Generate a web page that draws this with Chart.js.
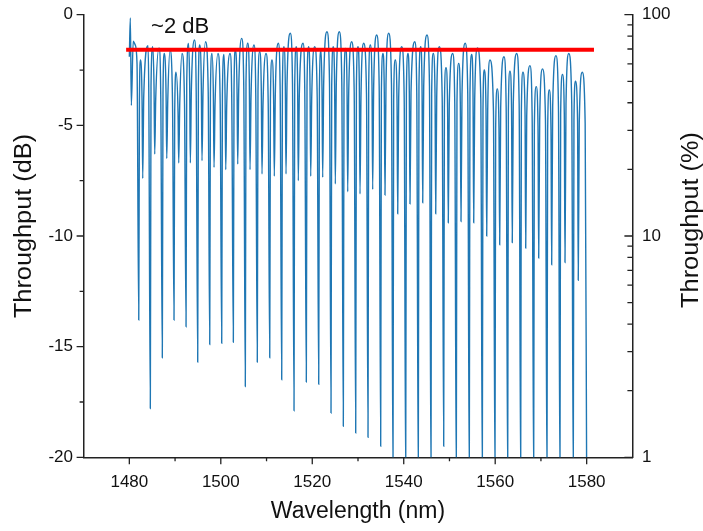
<!DOCTYPE html>
<html>
<head>
<meta charset="utf-8">
<script src="https://cdn.jsdelivr.net/npm/chart.js@4.4.1/dist/chart.umd.min.js"></script>
<style>
  html, body { margin: 0; padding: 0; background: #fff; }
</style>
</head>
<body>
<canvas id="chart" width="703" height="531"></canvas>
<script>
const FONT = "'Liberation Sans', Arial, sans-serif";

// deep resonances (nm, dB)
const deepNm = [1482.06, 1484.59, 1487.21, 1489.77, 1492.40, 1494.95, 1497.58, 1500.20, 1502.74, 1505.36,
  1507.98, 1510.70, 1513.32, 1516.01, 1518.70, 1521.41, 1524.10, 1526.79, 1529.50, 1532.19,
  1534.96, 1537.65, 1540.43, 1543.18, 1545.96, 1548.74, 1551.49, 1554.33, 1557.18, 1559.95,
  1562.73, 1565.57, 1568.41, 1571.32, 1574.16, 1577.07, 1580.00];
const deepDb = [-13.8, -17.8, -15.5, -13.8, -14.1, -15.7, -14.9, -14.85, -14.8, -16.8,
  -15.7, -15.5, -16.5, -17.9, -16.6, -16.7, -18.0, -18.6, -18.9, -19.1,
  -19.5, -21, -21, -21, -21, -19.5, -21, -21, -21, -21,
  -21, -21, -21, -21, -21, -21, -21];

// shallower dips between them
const secNm = [1482.93, 1485.55, 1488.18, 1490.80, 1493.34, 1495.89, 1498.52, 1501.08, 1503.70, 1506.39,
  1509.01, 1511.70, 1514.26, 1516.95, 1519.66, 1522.28, 1525.04, 1527.75, 1530.44, 1533.21,
  1535.90, 1538.68, 1541.37, 1544.15, 1546.99, 1549.74, 1552.52, 1555.30, 1558.14, 1560.98,
  1563.73, 1566.67, 1569.51, 1572.35, 1575.26, 1578.16];
const secDb = [-7.4, -6.3, -6.5, -6.7, -6.7, -6.6, -6.9, -7.0, -6.75, -7.0,
  -7.2, -7.3, -7.2, -7.5, -7.3, -7.35, -7.65, -8.0, -8.1, -7.9,
  -8.15, -9.0, -8.55, -8.5, -9.0, -9.4, -9.35, -9.4, -10.0, -10.4,
  -10.3, -10.55, -11.0, -11.3, -11.2, -12.0];

// small hump right after each deep dip: top, and its two flanks
const peakANm = [1482.45, 1485.12, 1487.65, 1490.21, 1492.94, 1495.39, 1498.08, 1500.70, 1503.17, 1505.89,
  1508.51, 1511.20, 1513.82, 1516.51, 1519.22, 1521.91, 1524.60, 1527.31, 1530.00, 1532.69,
  1535.47, 1538.15, 1540.93, 1543.71, 1546.46, 1549.24, 1552.02, 1554.86, 1557.61, 1560.45,
  1563.23, 1566.07, 1568.97, 1571.82, 1574.71, 1577.55];
const peakADb = [-2.05, -1.45, -1.75, -2.6, -1.3, -1.37, -1.75, -1.8, -1.6, -1.29,
  -1.67, -2.05, -1.45, -1.45, -1.45, -1.6, -1.45, -1.52, -1.45, -1.37,
  -1.75, -2.05, -1.75, -1.45, -1.75, -2.4, -2.2, -1.8, -2.5, -3.35,
  -2.55, -2.6, -3.25, -3.4, -2.7, -3.0];
const flankALeftNm = [1482.21, 1484.74, 1487.36, 1489.92, 1492.55, 1495.10, 1497.73, 1500.35, 1502.89, 1505.51,
  1508.13, 1510.85, 1513.47, 1516.16, 1518.85, 1521.56, 1524.25, 1526.94, 1529.65, 1532.34,
  1535.11, 1537.80, 1540.58, 1543.33, 1546.11, 1548.89, 1551.64, 1554.48, 1557.33, 1560.10,
  1562.88, 1565.72, 1568.56, 1571.47, 1574.31, 1577.22];
const flankARightNm = [1482.78, 1485.40, 1488.03, 1490.65, 1493.19, 1495.74, 1498.37, 1500.93, 1503.55, 1506.24,
  1508.86, 1511.55, 1514.11, 1516.80, 1519.51, 1522.13, 1524.89, 1527.60, 1530.29, 1533.06,
  1535.75, 1538.53, 1541.22, 1544.00, 1546.84, 1549.59, 1552.37, 1555.15, 1557.99, 1560.83,
  1563.58, 1566.52, 1569.36, 1572.20, 1575.11, 1578.01];
const flankADb = [-3.85, -3.25, -3.55, -4.4, -3.1, -3.17, -3.55, -3.6, -3.4, -3.09,
  -3.47, -3.85, -3.25, -3.25, -3.25, -3.4, -3.25, -3.32, -3.25, -3.17,
  -3.55, -3.85, -3.55, -3.25, -3.55, -4.2, -4.0, -3.6, -4.3, -5.15,
  -4.35, -4.4, -5.05, -5.2, -4.5, -4.8];

// main hump before the next deep dip: top, and its two flanks
const peakBNm = [1484.09, 1486.49, 1488.90, 1491.52, 1494.25, 1496.66, 1499.39, 1502.02, 1504.57, 1507.26,
  1509.89, 1512.58, 1515.20, 1517.98, 1520.53, 1523.22, 1525.91, 1528.62, 1531.25, 1534.09,
  1536.71, 1539.56, 1542.42, 1545.09, 1547.78, 1550.70, 1553.44, 1556.13, 1558.86, 1561.92,
  1564.70, 1567.60, 1570.34, 1573.29, 1576.09, 1579.04];
const peakBDb = [-1.4, -1.5, -1.6, -1.75, -1.14, -1.22, -1.75, -1.75, -1.07, -1.37,
  -1.75, -1.29, -0.84, -1.29, -1.45, -0.77, -0.77, -1.22, -1.29, -0.92,
  -0.84, -1.45, -1.22, -0.92, -1.45, -1.75, -1.29, -1.5, -2.05, -1.9,
  -1.75, -2.3, -2.45, -1.85, -1.75, -2.6];
const flankBLeftNm = [1483.15, 1485.77, 1488.40, 1491.02, 1493.56, 1496.11, 1498.74, 1501.30, 1503.92, 1506.61,
  1509.23, 1511.92, 1514.48, 1517.17, 1519.88, 1522.50, 1525.26, 1527.97, 1530.66, 1533.43,
  1536.12, 1538.90, 1541.59, 1544.37, 1547.21, 1549.96, 1552.74, 1555.52, 1558.36, 1561.20,
  1563.95, 1566.89, 1569.73, 1572.57, 1575.48, 1578.38];
const flankBRightNm = [1484.26, 1486.88, 1489.44, 1492.07, 1494.62, 1497.25, 1499.87, 1502.41, 1505.03, 1507.65,
  1510.37, 1512.99, 1515.68, 1518.37, 1521.08, 1523.77, 1526.46, 1529.17, 1531.86, 1534.63,
  1537.32, 1540.10, 1542.85, 1545.63, 1548.41, 1551.16, 1554.00, 1556.85, 1559.62, 1562.40,
  1565.24, 1568.08, 1570.99, 1573.83, 1576.74, 1579.67];
const flankBDb = [-3.7, -3.8, -3.9, -4.05, -3.44, -3.52, -4.05, -4.05, -3.37, -3.67,
  -4.05, -3.59, -3.14, -3.59, -3.75, -3.07, -3.07, -3.52, -3.59, -3.22,
  -3.14, -3.75, -3.52, -3.22, -3.75, -4.05, -3.59, -3.8, -4.35, -4.2,
  -4.05, -4.6, -4.75, -4.15, -4.05, -4.9];

// start of the trace
const startNm = [1480.0, 1480.22, 1480.44, 1480.85, 1481.25, 1481.68];
const startDb = [-1.9, -0.15, -4.1, -1.2, -1.35, -2.2];

// red reference level
const refNm = [1479.3, 1581.6];
const refDb = -1.58;
const refLabel = "~2 dB";

// axis ticks
const xMajor = [1480, 1500, 1520, 1540, 1560, 1580];
const xMinor = [1490, 1510, 1530, 1550, 1570];
const yMajor = [0, -5, -10, -15, -20];
const yMinor = [-2.5, -7.5, -12.5, -17.5];
const pctMajor = [1, 10, 100];
const pctMinor = [2, 3, 4, 5, 6, 7, 8, 9, 20, 30, 40, 50, 60, 70, 80, 90];

const pts = (xs, ys) => xs.map((x, i) => ({ x, y: ys[i] }));
const trace = [
  ...pts(startNm, startDb),
  ...pts(deepNm, deepDb),
  ...pts(secNm, secDb),
  ...pts(peakANm, peakADb),
  ...pts(flankALeftNm, flankADb),
  ...pts(flankARightNm, flankADb),
  ...pts(peakBNm, peakBDb),
  ...pts(flankBLeftNm, flankBDb),
  ...pts(flankBRightNm, flankBDb)
].sort((a, b) => a.x - b.x);

// rotated axis title, stretched a little along its length like the original
function sideTitle(ctx, text, x, y) {
  ctx.save();
  ctx.translate(x, y);
  ctx.rotate(-Math.PI / 2);
  ctx.scale(1.1, 1);
  ctx.fillText(text, 0, 0);
  ctx.restore();
}

const extras = {
  id: "extras",
  afterDraw(chart) {
    const { ctx, chartArea: a, scales } = chart;
    const sx = scales.x, sy = scales.y, sp = scales.y2;
    ctx.save();
    ctx.strokeStyle = "#222";
    ctx.lineWidth = 1.3;
    ctx.beginPath();
    const mark = (x1, y1, x2, y2) => { ctx.moveTo(x1, y1); ctx.lineTo(x2, y2); };
    xMajor.forEach(v => { const x = sx.getPixelForValue(v); mark(x, a.bottom, x, a.bottom + 7); });
    xMinor.forEach(v => { const x = sx.getPixelForValue(v); mark(x, a.bottom, x, a.bottom + 4); });
    yMajor.forEach(v => { const y = sy.getPixelForValue(v); mark(a.left - 7, y, a.left, y); });
    yMinor.forEach(v => { const y = sy.getPixelForValue(v); mark(a.left - 4, y, a.left, y); });
    pctMajor.forEach(v => { const y = sp.getPixelForValue(v); mark(a.right - 8, y, a.right, y); });
    pctMinor.forEach(v => { const y = sp.getPixelForValue(v); mark(a.right - 5, y, a.right, y); });
    ctx.stroke();

    ctx.fillStyle = "#111";
    ctx.font = "23px " + FONT;
    ctx.textAlign = "center";
    ctx.textBaseline = "alphabetic";
    ctx.fillText("Wavelength (nm)", (a.left + a.right) / 2, 518);
    sideTitle(ctx, "Throughput (dB)", 31, 226);
    sideTitle(ctx, "Throughput (%)", 698, 220);

    ctx.font = "22px " + FONT;
    ctx.fillText(refLabel, sx.getPixelForValue(1491.1), sy.getPixelForValue(-0.83));
    ctx.restore();
  }
};

const tickFont = { family: FONT, size: 17 };
const axisBorder = { display: true, color: "#222", width: 1.5 };
const noPad = s => { s.paddingTop = 0; s.paddingBottom = 0; s.paddingLeft = 0; s.paddingRight = 0; };

new Chart(document.getElementById("chart"), {
  type: "line",
  data: {
    datasets: [
      {
        data: refNm.map(x => ({ x, y: refDb })),
        borderColor: "#ff0000",
        borderWidth: 4,
        borderCapStyle: "butt",
        pointRadius: 0,
        tension: 0
      },
      {
        data: trace,
        borderColor: "#1f77b4",
        borderWidth: 1.4,
        pointRadius: 0,
        cubicInterpolationMode: "monotone"
      }
    ]
  },
  options: {
    responsive: false,
    devicePixelRatio: 1,
    animation: false,
    layout: { padding: { top: 14.7, left: 0, right: 0, bottom: 0 } },
    plugins: { legend: { display: false }, tooltip: { enabled: false } },
    scales: {
      x: {
        type: "linear",
        min: 1470,
        max: 1590,
        grid: { display: false, drawTicks: false },
        border: axisBorder,
        afterBuildTicks: s => { s.ticks = xMajor.map(value => ({ value })); },
        afterFit: s => { s.height = 73.7; noPad(s); },
        ticks: { font: tickFont, color: "#111", padding: 15, maxRotation: 0, autoSkip: false, callback: v => String(v) }
      },
      y: {
        type: "linear",
        position: "left",
        min: -20,
        max: 0,
        grid: { display: false, drawTicks: false },
        border: axisBorder,
        afterBuildTicks: s => { s.ticks = yMajor.map(value => ({ value })); },
        afterFit: s => { s.width = 83.6; noPad(s); },
        ticks: { font: tickFont, color: "#111", padding: 10.6, callback: v => String(v) }
      },
      y2: {
        type: "logarithmic",
        position: "right",
        min: 1,
        max: 100,
        grid: { display: false, drawTicks: false },
        border: axisBorder,
        afterBuildTicks: s => { s.ticks = pctMajor.map(value => ({ value })); },
        afterFit: s => { s.width = 70.6; noPad(s); },
        ticks: { font: tickFont, color: "#111", padding: 9.6, callback: v => String(v) }
      }
    }
  },
  plugins: [extras]
});
</script>
</body>
</html>
